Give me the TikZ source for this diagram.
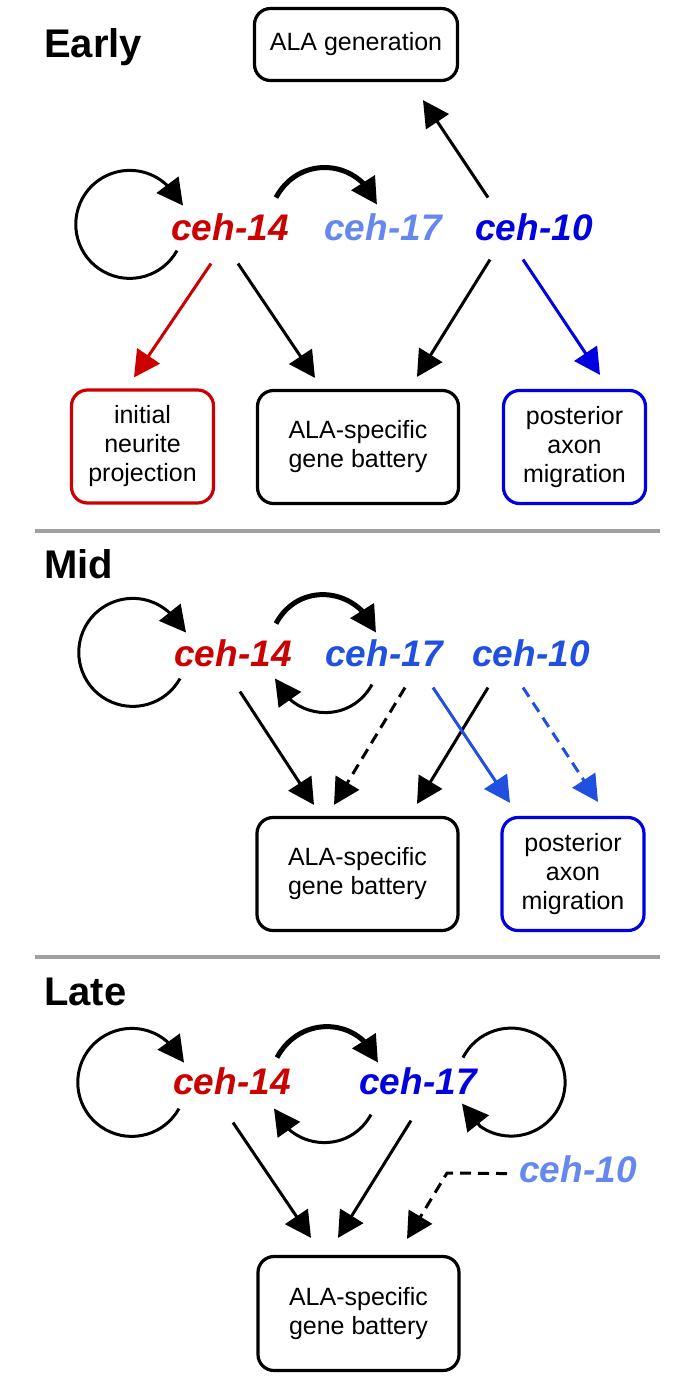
\documentclass[tikz,border=0pt]{standalone}
\usepackage{fontspec}
\setmainfont{Liberation Sans}
\usetikzlibrary{arrows.meta,bending}
\definecolor{cred}{RGB}{204,0,0}
\definecolor{cblue}{RGB}{0,0,225}
\definecolor{cmid}{RGB}{32,80,224}
\definecolor{clight}{RGB}{100,136,238}
\definecolor{cgrey}{RGB}{160,160,160}
\begin{document}
\begin{tikzpicture}[x=1pt,y=1pt,
  gene/.style={inner sep=0pt, anchor=base, font=\fontsize{37}{44}\selectfont\bfseries\itshape},
  title/.style={inner sep=0pt, anchor=base west, font=\fontsize{40}{48}\selectfont\bfseries},
  box/.style={draw, rounded corners=16pt, line width=3.2pt, inner sep=0pt, align=center, font=\fontsize{25}{29}\selectfont},
  bigbox/.style={box, minimum width=201pt, minimum height=113pt},
  smallbox/.style={box, minimum width=142pt, minimum height=113pt},
  arr/.style={line width=3pt, -{Triangle[length=26pt,width=27pt]}},
  thickarr/.style={line width=5pt, -{Triangle[length=26pt,width=27pt]}},
  dsh/.style={dash pattern=on 11pt off 7pt},
  sep/.style={cgrey, line width=3.5pt}]
\useasboundingbox (0,0) rectangle (682,-1379);

% ---------- separators ----------
\coordinate (s1a) at (35,-531);
\coordinate (s1b) at (660,-531);
\coordinate (s2a) at (35,-957);
\coordinate (s2b) at (660,-957);
\draw[sep] (s1a) -- (s1b);
\draw[sep] (s2a) -- (s2b);

% ---------- EARLY ----------
\node[title] (tearly) at (44,-57) {Early};
\node[box, minimum width=203pt, minimum height=72pt] (eala) at (356,-44.5) {ALA generation};
\node[gene, text=cred] (e14) at (230,-240) {ceh-14};
\node[gene, text=clight] (e17) at (383,-240) {ceh-17};
\node[gene, text=cblue] (e10) at (534,-240) {ceh-10};
\node[smallbox, draw=cred] (enp) at (142.5,-446.5) {initial\\neurite\\projection};
\node[bigbox] (ebat) at (358,-447) {ALA-specific\\gene battery};
\node[smallbox, draw=cblue] (epam) at (574.5,-447) {posterior\\axon\\migration};

\draw[arr] ([shift={(-53,-10)}]e14.south) arc[start angle=-29, end angle=-320, radius=54pt] -- ([shift={(-47,35)}]e14.south);
\draw[thickarr] ([shift={(46,43)}]e14.south) to[out=62, in=111, looseness=1.24] ([shift={(-6,36)}]e17.south);
\draw[arr] ([shift={(-46,43)}]e10.south) -- ([shift={(67,-18)}]eala.south);
\draw[arr, cred] ([shift={(-19,-23)}]e14.south) -- ([shift={(-8.5,11)}]enp.north);
\draw[arr] ([shift={(8,-23)}]e14.south) -- ([shift={(-43,11)}]ebat.north);
\draw[arr] ([shift={(-44,-19)}]e10.south) -- ([shift={(59,12)}]ebat.north);
\draw[arr, cblue] ([shift={(-11,-19)}]e10.south) -- ([shift={(25.5,14)}]epam.north);

% ---------- MID ----------
\node[title] (tmid) at (44,-578) {Mid};
\node[gene, text=cred] (m14) at (233,-666) {ceh-14};
\node[gene, text=cmid] (m17) at (384,-666) {ceh-17};
\node[gene, text=cmid] (m10) at (531,-666) {ceh-10};
\node[bigbox] (mbat) at (357.5,-874) {ALA-specific\\gene battery};
\node[smallbox, draw=cblue] (mpam) at (573,-874) {posterior\\axon\\migration};

\draw[arr] ([shift={(-53,-12)}]m14.south) arc[start angle=-29, end angle=-320, radius=54pt] -- ([shift={(-47,34)}]m14.south);
\draw[thickarr] ([shift={(43,43)}]m14.south) to[out=62, in=111, looseness=1.24] ([shift={(-8,34)}]m17.south);
\draw[arr] ([shift={(-12,-18)}]m17.south) to[out=-119, in=-67, looseness=1.21] ([shift={(42,-12)}]m14.south);
\draw[arr] ([shift={(7,-25)}]m14.south) -- ([shift={(-43.5,11)}]mbat.north);
\draw[arr, dsh] ([shift={(21,-21)}]m17.south) -- ([shift={(-23.5,11)}]mbat.north);
\draw[arr] ([shift={(-43,-21)}]m10.south) -- ([shift={(59.5,12)}]mbat.north);
\draw[arr, cmid] ([shift={(49,-21)}]m17.south) -- ([shift={(-63,13)}]mpam.north);
\draw[arr, cmid, dsh] ([shift={(-8,-21)}]m10.south) -- ([shift={(25,14)}]mpam.north);

% ---------- LATE ----------
\node[title] (tlate) at (44,-1005) {Late};
\node[gene, text=cred] (l14) at (232,-1094) {ceh-14};
\node[gene, text=cblue] (l17) at (418,-1094) {ceh-17};
\node[gene, text=clight] (l10) at (578,-1182) {ceh-10};
\node[bigbox, minimum height=114pt] (lbat) at (358.5,-1313.5) {ALA-specific\\gene battery};

\draw[arr] ([shift={(-53,-14)}]l14.south) arc[start angle=-29, end angle=-320, radius=54pt] -- ([shift={(-48,32)}]l14.south);
\draw[thickarr] ([shift={(45,37)}]l14.south) to[out=62, in=111, looseness=1.24] ([shift={(-40,32)}]l17.south);
\draw[arr] ([shift={(-47,-20)}]l17.south) to[out=-119, in=-67, looseness=1.21] ([shift={(42,-14)}]l14.south);
\draw[arr] ([shift={(45,37)}]l17.south) arc[start angle=153, end angle=-125, radius=54pt] -- ([shift={(44,-9)}]l17.south);
\draw[arr] ([shift={(1,-28)}]l14.south) -- ([shift={(-47.5,17)}]lbat.north);
\draw[arr] ([shift={(-7,-26)}]l17.south) -- ([shift={(-20.5,17)}]lbat.north);
\coordinate (lcorner) at (447,-1173);
\draw[arr, dsh] ([shift={(-71,9)}]l10.south) -- (lcorner) -- ([shift={(48.5,16)}]lbat.north);
\end{tikzpicture}
\end{document}
